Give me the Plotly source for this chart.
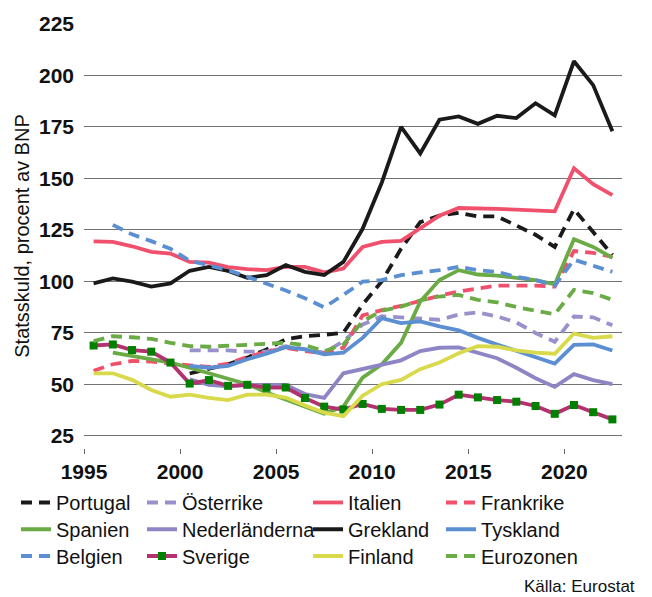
import plotly.graph_objects as go

# Statsskuld (procent av BNP), 1995-2022
years = list(range(1995, 2023))
N = None

portugal = [N, N, N, N, N, 55.2, 57.3, 59.7, 62.9, 66.9, 71.9, 73.3, 74.0, 75.0,
            88.7, 100.0, 115.8, 128.7, 131.9, 133.2, 131.5, 131.5, 127.1, 122.6,
            116.7, 135.0, 123.9, 112.8]
osterrike = [N, N, N, N, N, 66.4, 66.6, 66.4, 65.8, 65.8, 68.5, 66.9, 65.3, 70.9,
             79.0, 83.0, 82.5, 82.1, 81.3, 83.8, 84.9, 82.9, 80.0, 74.9,
             70.6, 82.9, 82.5, 78.6]
italien = [119.4, 119.1, 117.0, 114.3, 113.5, 109.4, 109.1, 106.9, 105.9, 105.4,
           107.0, 107.0, 104.3, 106.2, 116.7, 119.1, 119.6, 125.5, 131.9, 135.6,
           135.5, 135.2, 134.8, 134.5, 134.0, 154.9, 147.2, 141.9]
frankrike = [56.5, 59.7, 61.3, 61.0, 60.0, 59.2, 58.4, 60.0, 63.2, 65.8,
             67.7, 66.1, 65.0, 67.7, 83.4, 86.0, 88.0, 90.5, 93.0, 95.0,
             96.3, 97.9, 97.9, 97.9, 97.4, 114.7, 113.8, 111.8]
spanien = [N, 65.3, 63.7, 62.1, 60.5, 58.0, 55.2, 52.4, 50.0, 46.0,
           42.5, 39.0, 35.7, 39.1, 53.2, 59.7, 70.1, 90.2, 100.6, 105.4,
           103.3, 102.7, 101.7, 100.6, 98.5, 120.4, 116.7, 111.4]
nederlanderna = [N, N, N, N, N, 52.4, 49.7, 48.9, 49.6, 49.7, 49.7, 45.2, 43.3, 55.3,
                 57.3, 59.2, 61.6, 66.1, 67.7, 67.9, 65.3, 62.6, 58.0, 52.9,
                 48.7, 54.9, 52.0, 50.0]
grekland = [99.0, 101.4, 99.8, 97.4, 99.0, 105.1, 107.0, 105.0, 101.7, 103.0,
            107.9, 104.6, 103.0, 109.4, 125.5, 148.0, 175.0, 162.1, 178.5, 180.1,
            176.5, 180.4, 179.3, 186.5, 180.6, 206.9, 195.3, 172.9]
tyskland = [N, N, N, N, N, 58.9, 58.0, 58.9, 62.1, 64.8, 68.0, 66.9, 64.5, 65.3,
            72.5, 82.1, 79.7, 80.5, 78.1, 76.2, 72.5, 69.3, 66.1, 62.9,
            60.0, 69.1, 69.3, 66.4]
belgien = [N, 127.4, 122.8, 119.5, 115.8, 110.0, 107.9, 105.4, 102.2, 99.0,
           95.5, 91.8, 87.3, 93.4, 99.8, 100.6, 103.0, 104.3, 105.4, 107.0,
           105.4, 104.6, 102.2, 100.6, 97.9, 110.5, 107.4, 104.6]
sverige = [68.8, 69.3, 66.6, 65.8, 60.5, 50.3, 52.0, 49.2, 49.7, 48.3,
           48.4, 43.3, 39.1, 37.7, 40.4, 38.0, 37.5, 37.5, 40.1, 44.9,
           43.6, 42.3, 41.5, 39.4, 35.6, 39.9, 36.4, 32.9]
finland = [55.3, 55.3, 52.1, 47.2, 43.9, 44.9, 43.3, 42.3, 44.9, 44.9,
           43.5, 39.6, 36.2, 34.5, 44.4, 50.0, 52.1, 57.3, 60.5, 65.0,
           68.5, 68.2, 66.4, 65.3, 64.8, 74.6, 72.5, 73.3]
eurozonen = [70.9, 73.3, 72.8, 72.0, 70.1, 68.5, 68.2, 68.6, 69.3, 69.6,
             70.1, 69.0, 66.0, 69.3, 80.5, 85.7, 87.7, 90.7, 92.6, 93.4,
             91.0, 89.8, 87.5, 85.7, 84.0, 95.8, 94.2, 91.0]

tick_years = [1995, 2000, 2005, 2010, 2015, 2020]
y_ticks = [25, 50, 75, 100, 125, 150, 175, 200, 225]

BLACK = "#1a1a1a"
PURPLE_L = "#9891cc"
PURPLE = "#8e86c4"
RED = "#f0506b"
GREEN = "#6aab46"
BLUE = "#5b8fd2"
YELLOW = "#d8d94b"
MAGENTA = "#b5306f"
DASH = "11px,7px"
W = 3.8

# (name, values, colour, dash) in legend order: 4 columns, 3 rows
series = [
    ("Portugal", portugal, BLACK, DASH),
    ("Österrike", osterrike, PURPLE_L, DASH),
    ("Italien", italien, RED, "solid"),
    ("Frankrike", frankrike, RED, DASH),
    ("Spanien", spanien, GREEN, "solid"),
    ("Nederländerna", nederlanderna, PURPLE, "solid"),
    ("Grekland", grekland, BLACK, "solid"),
    ("Tyskland", tyskland, BLUE, "solid"),
    ("Belgien", belgien, BLUE, DASH),
    ("Sverige", sverige, MAGENTA, "solid"),
    ("Finland", finland, YELLOW, "solid"),
    ("Eurozonen", eurozonen, GREEN, DASH),
]

FONT = "Liberation Sans, Arial, sans-serif"

# legend grid: left edge of each column and centre of each row (paper units)
col_x = [-0.1264, 0.1078, 0.4164, 0.6636]
row_y = [-0.1285, -0.1916, -0.2547]

fig = go.Figure()
legends = {}
for i, (name, vals, col, dash) in enumerate(series):
    r, c = divmod(i, 4)
    key = "legend" if i == 0 else f"legend{i + 1}"
    if name == "Sverige":
        kw = dict(mode="lines+markers",
                  marker=dict(symbol="square", size=8, color="#008000"))
    else:
        kw = dict(mode="lines")
    fig.add_trace(go.Scatter(
        x=years, y=vals, name=name, legend=key,
        line=dict(color=col, width=W, dash=dash),
        connectgaps=False, **kw))
    legends[key] = dict(
        x=col_x[c], y=row_y[r], xanchor="left", yanchor="middle",
        orientation="v", bgcolor="rgba(0,0,0,0)", borderwidth=0,
        itemwidth=30,
        font=dict(family=FONT, size=20, color="#111"))

fig.update_layout(
    width=652, height=597,
    margin=dict(l=84, r=30, t=20, b=149),
    paper_bgcolor="white", plot_bgcolor="white",
    font=dict(family=FONT, color="#111"),
    showlegend=True,
    **legends,
    xaxis=dict(
        range=[1994.5, 2022.5],
        tickvals=[t - 0.5 for t in tick_years],
        ticktext=[str(t) for t in tick_years],
        ticks="outside", ticklen=5, tickwidth=1, tickcolor="#666",
        showgrid=False, zeroline=False, showline=False,
        tickfont=dict(family=FONT, size=21, color="#111", weight="bold"),
    ),
    yaxis=dict(
        range=[19, 225],
        tickvals=y_ticks,
        showgrid=True, gridcolor="#737373", gridwidth=1.3,
        zeroline=False, showline=False, ticks="",
        tickfont=dict(family=FONT, size=21, color="#111", weight="bold"),
        ticklabelstandoff=9,
        title=dict(text="Statsskuld, procent av BNP", standoff=3,
                   font=dict(family=FONT, size=20, color="#111")),
    ),
    annotations=[dict(
        text="Källa: Eurostat", xref="paper", yref="paper",
        x=1.0279, y=-0.327, xanchor="right", yanchor="middle",
        showarrow=False, font=dict(family=FONT, size=17, color="#111"))],
)

fig.write_html("out.html")
